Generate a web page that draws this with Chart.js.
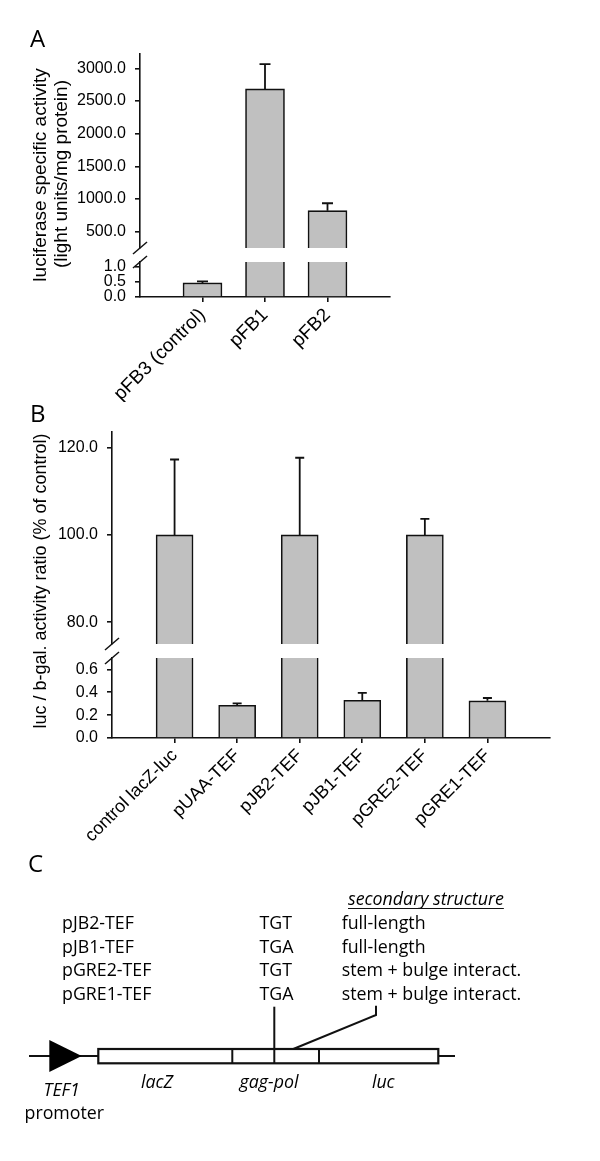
<!DOCTYPE html>
<html>
<head>
<meta charset="utf-8">
<script src="https://cdn.jsdelivr.net/npm/chart.js"></script>
<style>
  body { margin: 0; background: #fff; }
  #page { position: relative; width: 600px; height: 1161px; overflow: hidden; background: #fff; }
  #page canvas, #page svg { position: absolute; left: 0; }
  #overlay { top: 0; pointer-events: none; }
</style>
</head>
<body>
<div id="page">
  <canvas id="chartA1" width="400" height="214" style="top:44px"></canvas>
  <canvas id="chartA2" width="400" height="150" style="top:252px"></canvas>
  <canvas id="chartB1" width="560" height="232" style="top:422px"></canvas>
  <canvas id="chartB2" width="560" height="202" style="top:648px"></canvas>
  <svg id="overlay" width="600" height="1161"></svg>
</div>
<script>
// panel A: luciferase specific activity
const categoriesA = ["pFB3 (control)", "pFB1", "pFB2"];
const valuesA = [0.47, 2685, 822];
const errorsA = [0.05, 380, 113];
const ticksUpperA = [500, 1000, 1500, 2000, 2500, 3000];
const ticksLowerA = [0, 0.5, 1.0];

// panel B: luc / b-gal ratio
const categoriesB = ["control lacZ-luc", "pUAA-TEF", "pJB2-TEF", "pJB1-TEF", "pGRE2-TEF", "pGRE1-TEF"];
const valuesB = [100, 0.286, 100, 0.33, 100, 0.325];
const errorsB = [17.3, 0.017, 17.7, 0.065, 3.7, 0.025];
const ticksUpperB = [80, 100, 120];
const ticksLowerB = [0, 0.2, 0.4, 0.6];

// panel C: construct table
const constructs = ["pJB2-TEF", "pJB1-TEF", "pGRE2-TEF", "pGRE1-TEF"];
const codons = ["TGT", "TGA", "TGT", "TGA"];
const structures = ["full-length", "full-length", "stem + bulge interact.", "stem + bulge interact."];

const INK = "#111";
Chart.defaults.font.family = "'Liberation Sans', Arial, sans-serif";
Chart.defaults.color = "#000";

const errorBarPlugin = {
    id: "errorBars",
    afterDatasetsDraw(chart, args, opts) {
        const {ctx, chartArea} = chart;
        const ds = chart.data.datasets[0];
        const meta = chart.getDatasetMeta(0);
        const y = chart.scales.y;
        ctx.save();
        ctx.beginPath();
        ctx.rect(chartArea.left, chartArea.top, chartArea.width, chartArea.height);
        ctx.clip();
        ctx.strokeStyle = INK;
        ctx.lineWidth = 1.8;
        ds.data.forEach((v, i) => {
            const err = ds.errors[i];
            if (v == null || err == null) return;
            const x = meta.data[i].x;
            const y0 = y.getPixelForValue(v);
            const y1 = y.getPixelForValue(v + err);
            ctx.beginPath();
            ctx.moveTo(x, y0);
            ctx.lineTo(x, y1);
            ctx.moveTo(x - opts.cap / 2, y1);
            ctx.lineTo(x + opts.cap / 2, y1);
            ctx.stroke();
        });
        ctx.restore();
    }
};

// the double slash where the value axis is broken
const axisBreakPlugin = {
    id: "axisBreak",
    afterDraw(chart, args, opts) {
        if (!opts.edge) return;
        const {ctx, chartArea} = chart;
        const x = chartArea.left;
        const y = opts.edge === "bottom" ? chartArea.bottom : chartArea.top;
        ctx.save();
        ctx.strokeStyle = INK;
        ctx.lineWidth = 1.5;
        ctx.beginPath();
        ctx.moveTo(x - 7, y + 6);
        ctx.lineTo(x + 7, y - 6);
        ctx.stroke();
        ctx.restore();
    }
};

const buildChart = (id, o) => {
    // one empty slot at each end so the bars sit one step in from the axis ends
    const labels = ["", ...o.categories, ""];
    const data = [null, ...o.values, null];
    const errors = [null, ...o.errors, null];

    return new Chart(document.getElementById(id), {
        type: "bar",
        data: {
            labels: labels,
            datasets: [{
                data: data,
                errors: errors,
                backgroundColor: "#c0c0c0",
                borderColor: INK,
                borderWidth: 1.6,
                barThickness: o.barWidth,
                clip: 0
            }]
        },
        plugins: [errorBarPlugin, axisBreakPlugin],
        options: {
            responsive: false,
            animation: false,
            events: [],
            layout: { padding: o.padding },
            plugins: {
                legend: { display: false },
                tooltip: { enabled: false },
                errorBars: { cap: o.cap },
                axisBreak: { edge: o.breakEdge }
            },
            scales: {
                x: {
                    display: o.showX,
                    offset: false,
                    grid: {
                        offset: false,
                        drawOnChartArea: false,
                        tickLength: 5,
                        lineWidth: 1.6,
                        color: c => (c.tick && c.tick.label) ? INK : "rgba(0,0,0,0)"
                    },
                    border: { display: true, color: INK, width: 1.6 },
                    ticks: {
                        autoSkip: false,
                        minRotation: 45,
                        maxRotation: 45,
                        padding: 2,
                        font: { size: o.xFont }
                    },
                    afterFit: s => {
                        if (o.showX) s.height = o.xHeight;
                        s.paddingLeft = 0;
                        s.paddingRight = 0;
                    }
                },
                y: {
                    min: o.min,
                    max: o.max,
                    grid: { drawOnChartArea: false, tickLength: 5, lineWidth: 1.6, color: INK },
                    border: { display: true, color: INK, width: 1.6 },
                    ticks: {
                        autoSkip: false,
                        padding: 9,
                        font: { size: 16 },
                        callback: v => Number(v).toFixed(1)
                    },
                    afterBuildTicks: s => { s.ticks = o.ticks.map(v => ({ value: v })); },
                    afterFit: s => {
                        s.width = o.yWidth;
                        s.paddingTop = 0;
                        s.paddingBottom = 0;
                    }
                }
            }
        }
    });
};

buildChart("chartA1", {
    categories: categoriesA, values: valuesA, errors: errorsA, ticks: ticksUpperA,
    min: 250, max: 3220, yWidth: 140, barWidth: 39, cap: 11,
    padding: { top: 10, bottom: 10, left: 0, right: 10 },
    showX: false, breakEdge: "bottom"
});
buildChart("chartA2", {
    categories: categoriesA, values: valuesA, errors: errorsA, ticks: ticksLowerA,
    min: 0, max: 1.17, yWidth: 140, barWidth: 39, cap: 11,
    padding: { top: 10, bottom: 0, left: 0, right: 10 },
    showX: true, xHeight: 105, xFont: 19, breakEdge: "top"
});
buildChart("chartB1", {
    categories: categoriesB, values: valuesB, errors: errorsB, ticks: ticksUpperB,
    min: 75, max: 123.6, yWidth: 112, barWidth: 37, cap: 9,
    padding: { top: 10, bottom: 10, left: 0, right: 10 },
    showX: false, breakEdge: "bottom"
});
buildChart("chartB2", {
    categories: categoriesB, values: valuesB, errors: errorsB, ticks: ticksLowerB,
    min: 0, max: 0.7, yWidth: 112, barWidth: 37, cap: 9,
    padding: { top: 10, bottom: 0, left: 0, right: 10 },
    showX: true, xHeight: 112, xFont: 18, breakEdge: "top"
});

// panel letters, axis titles and the construct diagram
const svg = document.getElementById("overlay");
const sans = "'Liberation Sans', Arial, sans-serif";
const humanist = "'Open Sans', 'Noto Sans', sans-serif";
let out = "";

const text = (x, y, s, attrs) => {
    out += `<text x="${x}" y="${y}" ${attrs || ""}>${s}</text>`;
};

text(30, 47, "A", `font-family="${humanist}" font-size="24"`);
text(30, 422, "B", `font-family="${humanist}" font-size="24"`);
text(28, 872, "C", `font-family="${humanist}" font-size="24"`);

text(45.5, 175, "luciferase specific activity",
    `font-family="${sans}" font-size="19" text-anchor="middle" transform="rotate(-90 45.5 175)"`);
text(67, 174, "(light units/mg protein)",
    `font-family="${sans}" font-size="19" text-anchor="middle" transform="rotate(-90 67 174)"`);
text(46, 581, "luc / b-gal. activity ratio (% of control)",
    `font-family="${sans}" font-size="18" text-anchor="middle" transform="rotate(-90 46 581)"`);

const cFont = `font-family="${humanist}" font-size="17.8"`;
text(348, 905, "secondary structure", `${cFont} font-style="italic" id="secHead"`);
constructs.forEach((name, i) => {
    const y = 929.3 + i * 23.5;
    text(62, y, name, cFont);
    text(259.5, y, codons[i], cFont);
    text(341.7, y, structures[i], cFont);
});

const line = (pts, w) => {
    out += `<polyline points="${pts}" fill="none" stroke="${INK}" stroke-width="${w || 2}"/>`;
};
line("29,1056 98,1056");
line("438,1056 455,1056");
out += `<polygon points="49.3,1040 49.3,1072 81.7,1056" fill="#000"/>`;
out += `<rect x="98.3" y="1049" width="340" height="14.3" fill="#fff" stroke="${INK}" stroke-width="2.2"/>`;
line("232.3,1049 232.3,1063.3");
line("319,1049 319,1063.3");
line("274.3,1006.7 274.3,1063.3");
line("376,1005.7 376,1015 293.3,1049");

const it = `font-family="${humanist}" font-size="17.8" font-style="italic" text-anchor="middle"`;
text(61.7, 1096, "TEF1", it);
text(64.3, 1119, "promoter", `font-family="${humanist}" font-size="17.8" text-anchor="middle"`);
text(157, 1088.3, "lacZ", it);
text(269, 1088.3, "gag-pol", it);
text(383.3, 1088.3, "luc", it);

svg.innerHTML = out;

// underline the column heading
const head = document.getElementById("secHead");
const w = head.getComputedTextLength();
svg.insertAdjacentHTML("beforeend",
    `<line x1="348" y1="908.5" x2="${348 + w}" y2="908.5" stroke="${INK}" stroke-width="1.2"/>`);
</script>
</body>
</html>
